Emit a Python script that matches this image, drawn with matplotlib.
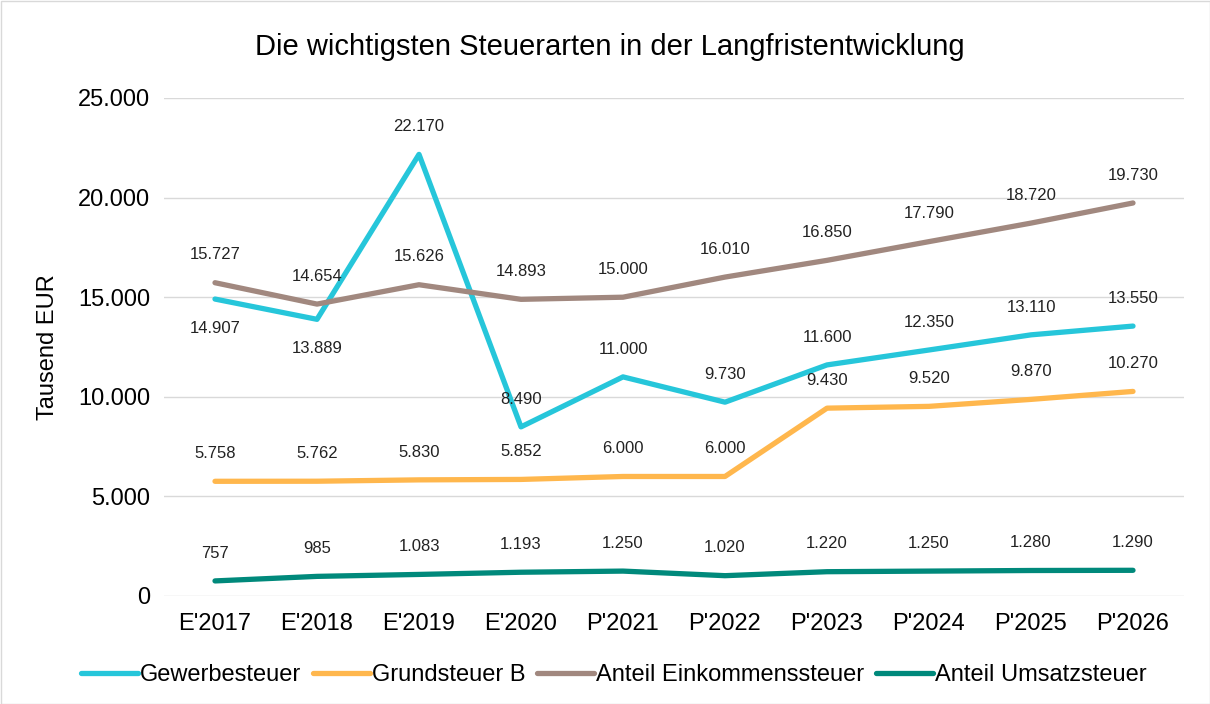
import matplotlib
matplotlib.use("Agg")
from matplotlib import pyplot as plt
from matplotlib.ticker import FuncFormatter

plt.rcParams['font.family'] = ['Liberation Sans', 'DejaVu Sans']

jahre = ["E'2017", "E'2018", "E'2019", "E'2020", "P'2021",
         "P'2022", "P'2023", "P'2024", "P'2025", "P'2026"]
gewerbe = [14907, 13889, 22170, 8490, 11000, 9730, 11600, 12350, 13110, 13550]
grund_b = [5758, 5762, 5830, 5852, 6000, 6000, 9430, 9520, 9870, 10270]
einkommen = [15727, 14654, 15626, 14893, 15000, 16010, 16850, 17790, 18720, 19730]
umsatz = [757, 985, 1083, 1193, 1250, 1020, 1220, 1250, 1280, 1290]

# labels below the line for these (series, index)
unten = {("Gewerbesteuer", 0), ("Gewerbesteuer", 1)}


def fmt(v):
    return f"{v:,.0f}".replace(",", ".")


fig = plt.figure(figsize=(12.1, 7.04), dpi=100)
ax = fig.add_axes([164 / 1210, 1 - 596 / 704, 1020 / 1210, 498 / 704])

reihen = [
    ("Gewerbesteuer", gewerbe, "#26C6DA"),
    ("Grundsteuer B", grund_b, "#FFB74D"),
    ("Anteil Einkommenssteuer", einkommen, "#A1887F"),
    ("Anteil Umsatzsteuer", umsatz, "#00897B"),
]
xs = list(range(len(jahre)))
for name, werte, farbe in reihen:
    ax.plot(xs, werte, color=farbe, lw=3.8, label=name, solid_capstyle='round')
    for i, v in enumerate(werte):
        dy = -21 if (name, i) in unten else 20
        ax.annotate(fmt(v), (i, v), xytext=(0, dy), textcoords='offset points',
                    ha='center', va='center', fontsize=12, color='#222222')

ax.set_xlim(-0.5, len(jahre) - 0.5)
ax.set_ylim(0, 25000)
ax.set_yticks(range(0, 25001, 5000))
ax.yaxis.set_major_formatter(FuncFormatter(lambda v, p: fmt(v)))
ax.set_xticks(xs)
ax.set_xticklabels(jahre)
ax.tick_params(length=0, labelsize=17, pad=12)
ax.tick_params(axis='y', pad=10)
ax.grid(axis='y', color='#d9d9d9', lw=1)
ax.set_axisbelow(True)
for s in ax.spines.values():
    s.set_visible(False)
ax.set_ylabel("Tausend EUR", fontsize=17, labelpad=14)

fig.text(610 / 1210, 1 - 47 / 704, "Die wichtigsten Steuerarten in der Langfristentwicklung",
         ha='center', va='center', fontsize=21)

fig.legend(loc='center', bbox_to_anchor=(614 / 1210, 1 - 675 / 704), ncol=4,
           frameon=False, fontsize=17, handlelength=2.4, handletextpad=0.1,
           columnspacing=0.5)

fig.patches.append(plt.Rectangle((0.5 / 1210, 0.5 / 704), 1 - 1 / 1210, 1 - 1 / 704,
                                 transform=fig.transFigure, fill=False,
                                 edgecolor='#d9d9d9', lw=1))

fig.savefig("out.png", dpi=100)
